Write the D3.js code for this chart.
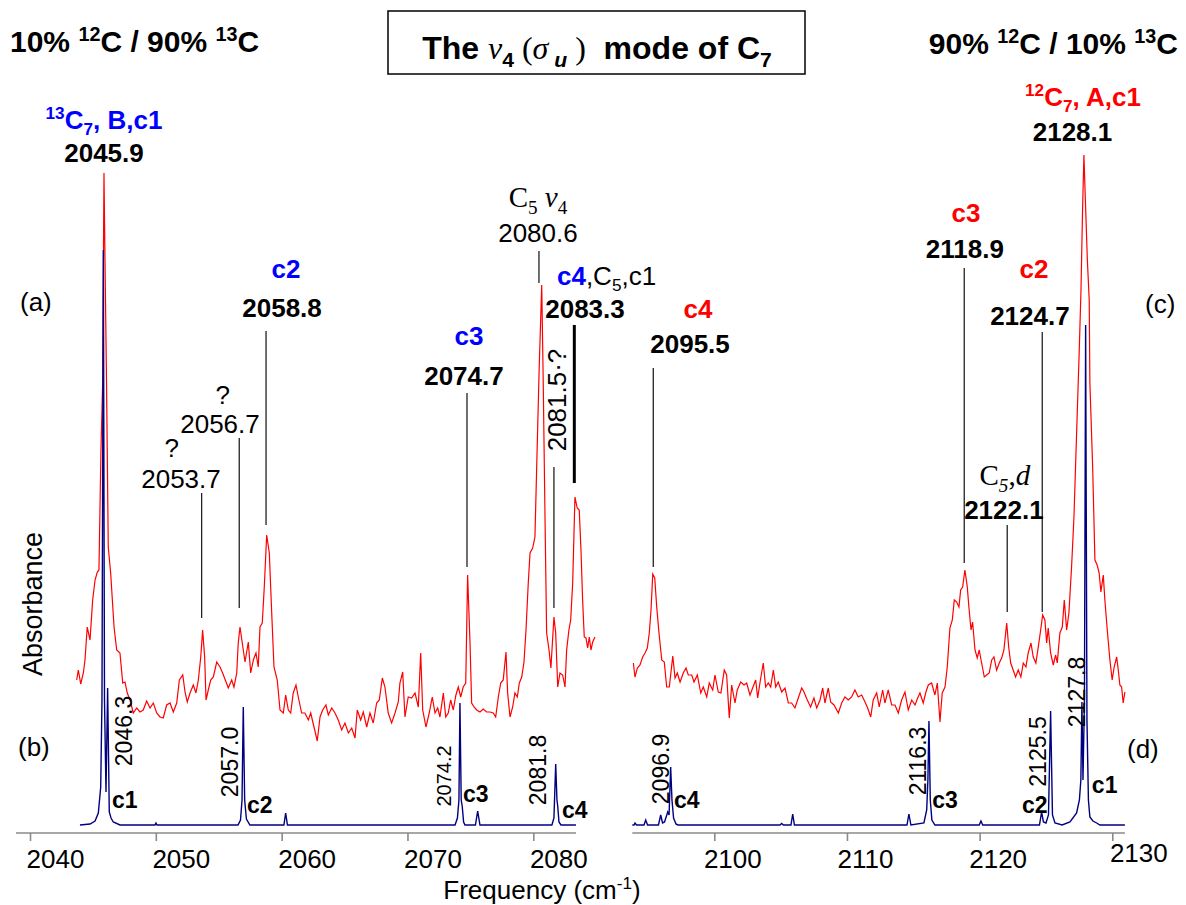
<!DOCTYPE html>
<html>
<head>
<meta charset="utf-8">
<script src="https://cdn.jsdelivr.net/npm/d3@7"></script>
<style>
  body { margin: 0; background: #fff; }
  text { font-family: Arial, 'Liberation Sans', sans-serif; white-space: pre; }
</style>
</head>
<body>
<svg id="chart" width="1186" height="905"></svg>
<script>
// ---- data (frequency in cm-1, absorbance in arbitrary units) ----
const leftTicks = [2040, 2050, 2060, 2070, 2080];
const rightTicks = [2100, 2110, 2120, 2130];

// (a) experimental, 10% 12C / 90% 13C
const redLeft = [[2043.71,1.45],[2043.84,1.55],[2044.03,1.41],[2044.24,1.52],[2044.37,1.65],[2044.55,1.98],[2044.77,1.85],[2044.98,2.25],[2045.17,2.45],[2045.35,2.53],[2045.48,2.55],[2045.64,3.75],[2045.78,4.45],[2045.84,5.75],[2045.88,6.52],[2045.96,5.65],[2046.08,4.45],[2046.22,2.78],[2046.41,2.52],[2046.68,1.98],[2046.89,1.75],[2047.15,1.72],[2047.37,1.42],[2047.55,1.43],[2047.73,1.32],[2047.95,1.25],[2048.21,1.12],[2048.48,1.17],[2048.74,1.13],[2049.00,1.15],[2049.27,1.24],[2049.54,1.17],[2049.80,1.22],[2050.07,1.12],[2050.33,1.08],[2050.59,1.07],[2050.86,1.20],[2051.13,1.22],[2051.39,1.13],[2051.66,1.22],[2051.87,1.45],[2052.14,1.50],[2052.32,1.33],[2052.50,1.23],[2052.72,1.32],[2052.98,1.40],[2053.19,1.32],[2053.38,1.45],[2053.57,1.68],[2053.72,1.95],[2053.88,1.68],[2053.99,1.25],[2054.17,1.35],[2054.36,1.45],[2054.57,1.48],[2054.84,1.63],[2055.10,1.58],[2055.31,1.52],[2055.58,1.43],[2055.76,1.37],[2056.03,1.45],[2056.21,1.38],[2056.43,1.52],[2056.55,1.82],[2056.69,1.98],[2056.87,1.82],[2057.09,1.63],[2057.35,1.83],[2057.54,1.52],[2057.75,1.65],[2057.96,1.72],[2058.14,1.58],[2058.28,1.98],[2058.46,2.02],[2058.62,2.38],[2058.81,2.90],[2059.02,2.72],[2059.21,2.12],[2059.39,1.58],[2059.65,1.45],[2059.87,1.15],[2060.13,1.12],[2060.32,1.30],[2060.53,1.15],[2060.72,1.12],[2060.92,1.32],[2061.14,1.40],[2061.32,1.28],[2061.59,1.12],[2061.85,1.12],[2062.12,1.05],[2062.31,1.12],[2062.57,0.98],[2062.83,0.84],[2063.05,1.08],[2063.26,1.15],[2063.52,1.20],[2063.71,1.10],[2063.98,1.17],[2064.24,1.12],[2064.50,1.05],[2064.77,0.95],[2065.03,1.02],[2065.30,0.92],[2065.57,0.97],[2065.83,0.87],[2066.01,1.15],[2066.28,1.05],[2066.49,1.13],[2066.76,0.98],[2067.02,1.12],[2067.28,1.02],[2067.55,1.22],[2067.76,1.25],[2068.00,1.47],[2068.21,1.38],[2068.47,1.12],[2068.74,1.02],[2069.01,1.12],[2069.27,1.23],[2069.40,1.42],[2069.62,1.53],[2069.80,1.08],[2070.06,1.28],[2070.33,1.27],[2070.60,1.32],[2070.86,1.18],[2071.05,1.72],[2071.21,1.15],[2071.47,0.98],[2071.73,1.12],[2071.97,1.28],[2072.19,1.12],[2072.40,1.17],[2072.58,1.08],[2072.85,1.32],[2073.04,1.08],[2073.24,1.12],[2073.43,1.25],[2073.64,1.15],[2073.85,1.30],[2074.04,1.38],[2074.23,1.28],[2074.43,1.38],[2074.63,1.42],[2074.78,2.50],[2074.97,1.82],[2075.10,1.22],[2075.29,1.18],[2075.50,1.15],[2075.76,1.13],[2076.02,1.16],[2076.29,1.13],[2076.56,1.13],[2076.82,1.12],[2077.01,1.08],[2077.22,1.28],[2077.41,1.42],[2077.61,1.45],[2077.83,1.73],[2077.96,1.32],[2078.15,1.08],[2078.36,1.18],[2078.54,1.32],[2078.73,1.28],[2078.89,1.42],[2079.08,1.48],[2079.26,1.63],[2079.42,1.95],[2079.60,2.42],[2079.74,2.72],[2079.95,2.77],[2080.13,2.88],[2080.27,3.58],[2080.47,4.58],[2080.67,5.40],[2080.79,4.42],[2080.93,3.08],[2081.06,1.92],[2081.25,1.75],[2081.40,1.57],[2081.64,2.08],[2081.78,1.92],[2081.94,1.38],[2082.12,1.52],[2082.33,1.50],[2082.52,1.38],[2082.65,1.75],[2082.83,1.95],[2082.97,2.05],[2083.13,2.42],[2083.31,3.28],[2083.49,3.17],[2083.65,3.15],[2083.79,2.75],[2083.92,2.25],[2084.05,1.88],[2084.19,1.87],[2084.32,1.77],[2084.45,1.88],[2084.58,1.75],[2084.72,1.83],[2084.90,1.88]];

// (c) experimental, 90% 12C / 10% 13C
const redRight = [[2093.90,1.62],[2094.02,1.48],[2094.20,1.57],[2094.40,1.60],[2094.60,1.68],[2094.78,1.72],[2094.95,1.77],[2095.10,1.92],[2095.23,2.15],[2095.36,2.51],[2095.51,2.47],[2095.66,2.18],[2095.83,1.92],[2096.04,1.65],[2096.23,1.63],[2096.41,1.38],[2096.61,1.38],[2096.87,1.69],[2097.04,1.47],[2097.21,1.52],[2097.42,1.43],[2097.66,1.52],[2097.87,1.57],[2098.04,1.50],[2098.30,1.50],[2098.47,1.43],[2098.72,1.50],[2098.98,1.32],[2099.17,1.38],[2099.43,1.28],[2099.62,1.42],[2099.88,1.35],[2100.05,1.50],[2100.30,1.33],[2100.50,1.32],[2100.75,1.55],[2100.93,1.50],[2101.13,1.07],[2101.31,1.40],[2101.56,1.22],[2101.73,1.35],[2101.99,1.43],[2102.24,1.40],[2102.44,1.42],[2102.69,1.30],[2102.89,1.37],[2103.12,1.45],[2103.27,1.27],[2103.44,1.42],[2103.69,1.62],[2103.87,1.38],[2104.07,1.42],[2104.25,1.38],[2104.45,1.55],[2104.63,1.38],[2104.82,1.43],[2105.08,1.33],[2105.33,1.37],[2105.58,1.22],[2105.83,1.22],[2106.08,1.17],[2106.33,1.27],[2106.59,1.37],[2106.76,1.33],[2107.01,1.25],[2107.26,1.18],[2107.51,1.27],[2107.72,1.17],[2107.97,1.25],[2108.17,1.37],[2108.34,1.22],[2108.59,1.37],[2108.77,1.23],[2109.02,1.20],[2109.35,1.12],[2109.60,1.22],[2109.85,1.28],[2110.10,1.25],[2110.35,1.28],[2110.60,1.35],[2110.85,1.28],[2111.11,1.30],[2111.36,1.23],[2111.56,1.17],[2111.79,1.08],[2111.98,1.25],[2112.24,1.32],[2112.43,1.18],[2112.69,1.35],[2112.86,1.22],[2113.11,1.35],[2113.37,1.20],[2113.62,1.20],[2113.87,1.12],[2114.12,1.25],[2114.37,1.33],[2114.62,1.15],[2114.88,1.25],[2115.13,1.20],[2115.33,1.27],[2115.50,1.32],[2115.75,1.22],[2115.95,1.33],[2116.13,1.40],[2116.38,1.42],[2116.63,1.30],[2116.81,1.42],[2117.01,1.03],[2117.18,1.32],[2117.39,1.38],[2117.56,1.58],[2117.76,1.97],[2117.94,2.05],[2118.09,2.25],[2118.27,2.23],[2118.44,2.18],[2118.57,2.35],[2118.72,2.38],[2118.89,2.55],[2119.07,2.38],[2119.19,2.18],[2119.35,1.95],[2119.47,2.03],[2119.65,1.75],[2119.82,1.67],[2119.97,1.75],[2120.15,1.62],[2120.35,1.48],[2120.53,1.50],[2120.72,1.52],[2120.91,1.65],[2121.08,1.68],[2121.28,1.55],[2121.48,1.62],[2121.66,1.67],[2121.83,1.75],[2122.04,2.02],[2122.19,1.78],[2122.34,1.62],[2122.53,1.55],[2122.71,1.48],[2122.91,1.55],[2123.11,1.48],[2123.29,1.62],[2123.49,1.58],[2123.66,1.72],[2123.87,1.82],[2124.04,1.68],[2124.24,1.62],[2124.42,1.78],[2124.60,1.95],[2124.75,2.10],[2124.92,2.05],[2125.05,1.82],[2125.17,1.97],[2125.35,1.72],[2125.55,1.60],[2125.73,1.70],[2125.85,1.62],[2126.05,1.92],[2126.23,1.98],[2126.38,2.25],[2126.56,1.95],[2126.73,2.12],[2126.93,2.58],[2127.11,3.08],[2127.31,3.92],[2127.51,4.75],[2127.64,5.35],[2127.75,6.10],[2127.86,6.70],[2127.97,6.25],[2128.12,5.65],[2128.26,5.25],[2128.31,4.42],[2128.52,3.58],[2128.69,2.65],[2128.86,2.60],[2129.01,2.52],[2129.14,2.33],[2129.32,2.50],[2129.44,2.25],[2129.62,1.95],[2129.82,1.65],[2129.99,1.45],[2130.14,1.58],[2130.33,1.68],[2130.45,1.55],[2130.57,1.40],[2130.70,1.38],[2130.82,1.22],[2130.95,1.33]];

// (b) simulated
const blueLeft = [[2043.97,0],[2044.77,0.01],[2045.17,0.04],[2045.43,0.12],[2045.62,0.38],[2045.72,1.25],[2045.83,5.75],[2045.92,1.25],[2046.04,0.33],[2046.17,1.37],[2046.30,0.13],[2046.44,0.07],[2046.62,0.03],[2047.15,0],[2049.93,0],[2050.01,0.02],[2050.09,0],[2056.53,0],[2056.73,0.05],[2056.85,0.25],[2056.95,1.18],[2057.06,0.25],[2057.20,0.06],[2057.48,0],[2060.18,0],[2060.32,0.12],[2060.46,0],[2073.78,0],[2073.97,0.07],[2074.09,0.25],[2074.17,1.22],[2074.27,0.25],[2074.35,0.19],[2074.46,0.03],[2074.57,0],[2075.40,0],[2075.58,0.14],[2075.76,0],[2081.48,0],[2081.64,0.07],[2081.78,0.61],[2081.88,0.25],[2081.94,0.19],[2082.04,0.03],[2082.20,0],[2083.39,0]];

// (d) simulated
const blueRight = [[2093.82,0],[2093.95,0],[2094.02,0.02],[2094.14,0],[2094.70,0],[2094.83,0.05],[2094.97,0],[2095.79,0],[2095.96,0.10],[2096.10,0.02],[2096.25,0.03],[2096.49,0.13],[2096.59,0.10],[2096.71,0.58],[2096.81,0.25],[2096.93,0.07],[2097.11,0.01],[2097.26,0],[2104.95,0],[2105.08,0.015],[2105.21,0],[2105.78,0],[2105.91,0.11],[2106.04,0],[2114.52,0],[2114.67,0.11],[2114.82,0],[2115.80,0.02],[2116.01,0.15],[2116.10,0.45],[2116.18,1.04],[2116.28,0.25],[2116.40,0.05],[2116.63,0],[2119.97,0],[2120.10,0.04],[2120.23,0],[2124.51,0],[2124.67,0.13],[2124.81,0.03],[2125.00,0.02],[2125.19,0.10],[2125.35,1.14],[2125.49,0.10],[2125.68,0.02],[2126.22,0],[2126.81,0.03],[2127.31,0.12],[2127.52,0.25],[2127.63,0.45],[2127.71,1.23],[2127.79,0.45],[2127.90,1.25],[2127.99,5.00],[2128.09,1.05],[2128.20,0.25],[2128.31,0.08],[2128.54,0.04],[2128.82,0.02],[2129.07,0],[2130.95,0]];

// leader lines: panel, frequency, top / bottom absorbance
const leaders = [
  { p: 'L', f: 2080.45, v1: 5.74, v2: 5.42 },
  { p: 'L', f: 2058.76, v1: 4.94, v2: 3.00 },
  { p: 'L', f: 2056.63, v1: 3.87, v2: 2.17 },
  { p: 'L', f: 2053.64, v1: 3.32, v2: 2.07 },
  { p: 'L', f: 2074.73, v1: 4.32, v2: 2.58 },
  { p: 'L', f: 2081.64, v1: 3.58, v2: 2.17 },
  { p: 'L', f: 2083.26, v1: 5.00, v2: 3.42, thick: true },
  { p: 'R', f: 2095.40, v1: 4.57, v2: 2.58 },
  { p: 'R', f: 2118.84, v1: 5.57, v2: 2.62 },
  { p: 'R', f: 2122.08, v1: 3.00, v2: 2.13 },
  { p: 'R', f: 2124.72, v1: 4.93, v2: 2.13 }
];

// peak annotations over the experimental traces
const peakNotes = [
  { p: 'L', f: 2045.88, v: 6.96, segs: [['13','blue','sup'],['C','blue'],['7','blue','sub'],[', B,c1','blue']] },
  { p: 'L', f: 2045.88, v: 6.63, segs: [['2045.9','bold']] },
  { p: 'L', f: 2080.37, v: 6.18, big: true, segs: [['C','serif'],['5','serif','sub'],[' ','serif'],['\u03bd','serifI'],['4','serif','sub']] },
  { p: 'L', f: 2080.37, v: 5.83, segs: [['2080.6','reg']] },
  { p: 'L', f: 2060.34, v: 5.47, segs: [['c2','blue']] },
  { p: 'L', f: 2060.03, v: 5.08, segs: [['2058.8','bold']] },
  { p: 'L', f: 2055.31, v: 4.21, segs: [['?','reg']] },
  { p: 'L', f: 2055.10, v: 3.92, segs: [['2056.7','reg']] },
  { p: 'L', f: 2051.26, v: 3.68, segs: [['?','reg']] },
  { p: 'L', f: 2052.00, v: 3.37, segs: [['2053.7','reg']] },
  { p: 'L', f: 2074.89, v: 4.80, segs: [['c3','blue']] },
  { p: 'L', f: 2074.49, v: 4.40, segs: [['2074.7','bold']] },
  { p: 'L', f: 2081.88, v: 5.40, anchor: 'start', segs: [['c4','blue'],[',C','reg'],['5','reg','sub'],[',c1','reg']] },
  { p: 'L', f: 2084.11, v: 5.07, segs: [['2083.3','bold']] },
  { p: 'R', f: 2127.79, v: 7.19, segs: [['12','red','sup'],['C','red'],['7','red','sub'],[', A,c1','red']] },
  { p: 'R', f: 2127.00, v: 6.84, segs: [['2128.1','bold']] },
  { p: 'R', f: 2118.97, v: 6.03, segs: [['c3','red']] },
  { p: 'R', f: 2118.89, v: 5.67, segs: [['2118.9','bold']] },
  { p: 'R', f: 2124.09, v: 5.47, segs: [['c2','red']] },
  { p: 'R', f: 2123.79, v: 5.00, segs: [['2124.7','bold']] },
  { p: 'R', f: 2121.90, v: 3.40, big: true, segs: [['C','serif'],['5','serifI','sub'],[',','serif'],['d','serifI']] },
  { p: 'R', f: 2121.83, v: 3.06, segs: [['2122.1','bold']] },
  { p: 'R', f: 2098.77, v: 5.07, segs: [['c4','red']] },
  { p: 'R', f: 2098.17, v: 4.72, segs: [['2095.5','bold']] }
];

// rotated positions of the simulated lines
const simNotes = [
  { p: 'L', f: 2047.47, v: 0.94, t: '2046.3' },
  { p: 'L', f: 2055.89, v: 0.63, t: '2057.0' },
  { p: 'L', f: 2072.90, v: 0.49, t: '2074.2', small: true },
  { p: 'L', f: 2080.33, v: 0.55, t: '2081.8' },
  { p: 'R', f: 2095.98, v: 0.56, t: '2096.9' },
  { p: 'R', f: 2115.31, v: 0.64, t: '2116.3' },
  { p: 'R', f: 2124.39, v: 0.735, t: '2125.5' },
  { p: 'R', f: 2127.33, v: 1.33, t: '2127.8' }
];
const rotatedQuery = { p: 'L', f: 2081.84, v: 4.25, t: '2081.5\u00b7?' };

// site labels under the simulated lines
const siteNotes = [
  { p: 'L', f: 2046.52, v: 0.17, t: 'c1' },
  { p: 'L', f: 2057.25, v: 0.12, t: 'c2' },
  { p: 'L', f: 2074.41, v: 0.23, t: 'c3' },
  { p: 'L', f: 2082.28, v: 0.07, t: 'c4' },
  { p: 'R', f: 2096.96, v: 0.17, t: 'c4' },
  { p: 'R', f: 2116.43, v: 0.17, t: 'c3' },
  { p: 'R', f: 2123.19, v: 0.12, t: 'c2' },
  { p: 'R', f: 2128.46, v: 0.32, t: 'c1' }
];

// ---- drawing ----
const SANS = "Arial, 'Liberation Sans', sans-serif";
const SERIF = "'Times New Roman', 'Liberation Serif', serif";
const segStyle = {
  blue:   { fill: '#0000ff', weight: 'bold', family: SANS },
  red:    { fill: '#ff0000', weight: 'bold', family: SANS },
  bold:   { fill: '#000', weight: 'bold', family: SANS },
  reg:    { fill: '#000', weight: 'normal', family: SANS },
  serif:  { fill: '#000', weight: 'normal', family: SERIF },
  serifI: { fill: '#000', weight: 'normal', family: SERIF, italic: true },
  boldI:  { fill: '#000', weight: 'bold', family: SANS, italic: true }
};

const svg = d3.select('#chart');

const xL = d3.scaleLinear().domain([2040, 2080]).range([30, 533.3]);
const xR = d3.scaleLinear().domain([2100, 2130]).range([714.3, 1112.3]);
const y = d3.scaleLinear().domain([0, 6.6]).range([825, 165]);
const xOf = p => (p === 'L' ? xL : xR);

function rich(sel, segs, size) {
  let off = 0;
  segs.forEach(s => {
    const st = segStyle[s[1]] || segStyle.bold;
    const target = s[2] === 'sup' ? -0.38 * size : s[2] === 'sub' ? 0.24 * size : 0;
    const ts = sel.append('tspan')
      .text(s[0])
      .attr('dy', target - off)
      .attr('fill', st.fill)
      .attr('font-weight', st.weight)
      .attr('font-family', st.family);
    if (st.italic) ts.attr('font-style', 'italic');
    if (s[2]) ts.attr('font-size', size * 0.66);
    off = target;
  });
}

// axes
function drawAxis(x, ticks, lo, hi, dx) {
  const g = svg.append('g').attr('transform', 'translate(0,833)');
  g.call(d3.axisBottom(x).tickValues(ticks).tickSize(8).tickPadding(9).tickFormat(d3.format('d')));
  g.select('.domain').remove();
  g.append('line')
    .attr('x1', x(lo)).attr('x2', x(hi))
    .attr('stroke', '#8a8a8a').attr('stroke-width', 1.6);
  g.selectAll('.tick line').attr('stroke', '#8a8a8a').attr('stroke-width', 1.6);
  g.selectAll('.tick text')
    .attr('font-size', 26).attr('font-family', SANS).attr('fill', '#000')
    .attr('dx', d => (d === 2130 ? 26 : dx))
    .attr('y', d => (d === 2130 ? 11 : 17));
}
drawAxis(xL, leftTicks, 2038.89, 2083.39, 25);
drawAxis(xR, rightTicks, 2093.82, 2130.95, 18);

// traces
const lineL = d3.line().x(d => xL(d[0])).y(d => y(d[1]));
const lineR = d3.line().x(d => xR(d[0])).y(d => y(d[1]));

svg.append('path').datum(redLeft).attr('d', lineL)
  .attr('fill', 'none').attr('stroke', '#ff0000').attr('stroke-width', 1.2);
svg.append('path').datum(redRight).attr('d', lineR)
  .attr('fill', 'none').attr('stroke', '#ff0000').attr('stroke-width', 1.2);
svg.append('path').datum(blueLeft).attr('d', lineL)
  .attr('fill', 'none').attr('stroke', '#000080').attr('stroke-width', 1.4);
svg.append('path').datum(blueRight).attr('d', lineR)
  .attr('fill', 'none').attr('stroke', '#000080').attr('stroke-width', 1.4);

// leader lines
svg.selectAll('.leader').data(leaders).enter().append('line')
  .attr('class', 'leader')
  .attr('x1', d => xOf(d.p)(d.f)).attr('x2', d => xOf(d.p)(d.f))
  .attr('y1', d => y(d.v1)).attr('y2', d => y(d.v2))
  .attr('stroke', d => (d.thick ? '#000' : '#222'))
  .attr('stroke-width', d => (d.thick ? 3 : 1.3));

// peak annotations
peakNotes.forEach(d => {
  const size = d.big ? 29 : 26;
  const t = svg.append('text')
    .attr('x', xOf(d.p)(d.f)).attr('y', y(d.v))
    .attr('font-size', size)
    .attr('text-anchor', d.anchor || 'middle');
  rich(t, d.segs, size);
});

// rotated labels of simulated lines
simNotes.forEach(d => {
  svg.append('text')
    .attr('transform', `translate(${xOf(d.p)(d.f)},${y(d.v)}) rotate(-90)`)
    .attr('text-anchor', 'middle').attr('dy', '0.36em')
    .attr('font-size', d.small ? 20 : 23)
    .attr('font-family', SANS)
    .text(d.t);
});
svg.append('text')
  .attr('transform', `translate(${xL(rotatedQuery.f)},${y(rotatedQuery.v)}) rotate(-90)`)
  .attr('text-anchor', 'middle').attr('dy', '0.36em')
  .attr('font-size', 26).attr('font-family', SANS)
  .text(rotatedQuery.t);

svg.selectAll('.site').data(siteNotes).enter().append('text')
  .attr('class', 'site')
  .attr('x', d => xOf(d.p)(d.f)).attr('y', d => y(d.v))
  .attr('font-size', 23).attr('font-weight', 'bold')
  .text(d => d.t);

// panel letters
[['(a)', 20, 311], ['(b)', 18, 756], ['(c)', 1145, 313], ['(d)', 1127, 758]].forEach(l => {
  svg.append('text').attr('x', l[1]).attr('y', l[2])
    .attr('font-size', 26).text(l[0]);
});

// axis titles
svg.append('text')
  .attr('transform', 'translate(42,604) rotate(-90)')
  .attr('text-anchor', 'middle').attr('font-size', 27)
  .text('Absorbance');
const xt = svg.append('text').attr('x', 542).attr('y', 899)
  .attr('text-anchor', 'middle').attr('font-size', 26);
rich(xt, [['Frequency (cm', 'reg'], ['-1', 'reg', 'sup'], [')', 'reg']], 26);

// header labels
const hl = svg.append('text').attr('x', 10).attr('y', 52).attr('font-size', 30);
rich(hl, [['10% ', 'bold'], ['12', 'bold', 'sup'], ['C / 90% ', 'bold'], ['13', 'bold', 'sup'], ['C', 'bold']], 30);
const hr = svg.append('text').attr('x', 1178).attr('y', 54).attr('font-size', 30).attr('text-anchor', 'end');
rich(hr, [['90% ', 'bold'], ['12', 'bold', 'sup'], ['C / 10% ', 'bold'], ['13', 'bold', 'sup'], ['C', 'bold']], 30);

// title box
svg.append('rect').attr('x', 388).attr('y', 11).attr('width', 417).attr('height', 63)
  .attr('fill', 'none').attr('stroke', '#000').attr('stroke-width', 1.5);
const tt = svg.append('text').attr('x', 597).attr('y', 59)
  .attr('font-size', 32).attr('text-anchor', 'middle');
rich(tt, [['The ', 'bold'], ['\u03bd', 'serifI'], ['4', 'bold', 'sub'], [' (', 'serif'], ['\u03c3', 'serifI'],
  [' u', 'boldI', 'sub'], [' )', 'serif'], ['  mode of C', 'bold'], ['7', 'bold', 'sub']], 32);
</script>
</body>
</html>
